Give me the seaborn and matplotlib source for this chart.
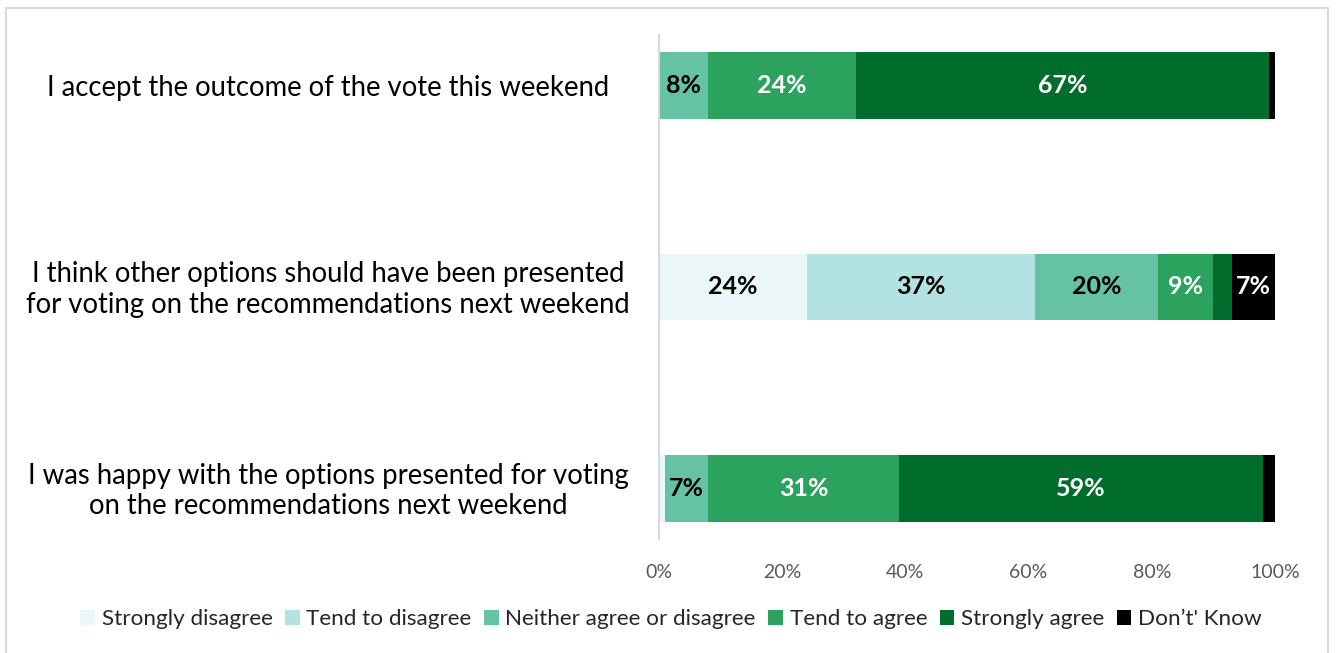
import numpy as np
import pandas as pd
import matplotlib
matplotlib.use("Agg")
import matplotlib.pyplot as plt
import matplotlib.transforms as mtransforms
from matplotlib.patches import Rectangle, Patch
import seaborn as sns

# ---- data ----
statements = [
    "I accept the outcome of the vote this weekend",
    "I think other options should have been presented\nfor voting on the recommendations next weekend",
    "I was happy with the options presented for voting\non the recommendations next weekend",
]
responses = ["Strongly disagree", "Tend to disagree", "Neither agree or disagree",
             "Tend to agree", "Strongly agree", "Don\u2019t' Know"]
strongly_disagree = [0, 24, 1]
tend_disagree = [0, 37, 0]
neither = [8, 20, 7]
tend_agree = [24, 9, 31]
strongly_agree = [67, 3, 59]
dont_know = [1, 7, 2]
tick_values = [0, 20, 40, 60, 80, 100]

colors = ["#EAF6F8", "#B2E2E2", "#66C2A4", "#2CA25F", "#006D2C", "#000000"]
label_colors = ["black", "black", "black", "white", "white", "white"]

series = [strongly_disagree, tend_disagree, neither, tend_agree, strongly_agree, dont_know]
vals = np.array(series, dtype=float)  # shape (6, 3)
cum = np.cumsum(vals, axis=0)

sns.set_theme(style="white")
plt.rcParams['font.family'] = ['Lato', 'DejaVu Sans']

fig = plt.figure(figsize=(13.36, 6.53), dpi=100)
W, H = 1336, 653
ax = fig.add_axes([659 / W, (H - 539) / H, (1275 - 659) / W, (539 - 35) / H])

keys = [f"s{i}" for i in range(len(statements))]
# draw cumulative bars from the largest to the smallest so they stack
for k in range(len(responses) - 1, -1, -1):
    df = pd.DataFrame({"stmt": keys, "value": cum[k]})
    sns.barplot(data=df, x="value", y="stmt", order=keys, color=colors[k],
                width=0.33, saturation=1, ax=ax, linewidth=0)

ax.set_xlim(0, 100)
ax.set_ylim(2.25, -0.25)
ax.set_xticks(tick_values)
ax.set_xticklabels([f"{t}%" for t in tick_values], color="#595959", fontsize=14)
ax.tick_params(axis="x", length=0, pad=18)
ax.set_yticks([])
ax.set_xlabel("")
ax.set_ylabel("")
for s in ["top", "right", "bottom"]:
    ax.spines[s].set_visible(False)
ax.spines["left"].set_color("#d9d9d9")
ax.spines["left"].set_linewidth(1.5)

# segment labels
for i in range(len(statements)):
    left = 0
    for k in range(len(responses)):
        v = vals[k, i]
        if v >= 5:
            ax.text(left + v / 2, i, f"{int(v)}%", ha="center", va="center",
                    color=label_colors[k], fontsize=18, fontweight="bold")
        left += v

# category labels, centered in left area
trans = mtransforms.blended_transform_factory(fig.transFigure, ax.transData)
for i, s in enumerate(statements):
    fig.text(328 / W, i + 0.012, s, transform=trans, ha="center", va="center",
             multialignment="center", fontsize=19.8, color="black", linespacing=1.2)

# legend
handles = [Patch(facecolor=c, edgecolor="none") for c in colors]
fig.legend(handles, responses, loc="center", bbox_to_anchor=(671 / W, 1 - 619 / H),
           ncol=6, frameon=False, fontsize=16.2, handlelength=0.65, handleheight=0.65,
           handletextpad=0.3, columnspacing=0.55, labelcolor="#262626")

# outer border
fig.patches.append(Rectangle((6 / W, -0.05), (1328 - 6) / W, (H - 8) / H + 0.05,
                             transform=fig.transFigure, fill=False,
                             edgecolor="#d9d9d9", linewidth=1.5))

fig.savefig("out.png", dpi=100)
